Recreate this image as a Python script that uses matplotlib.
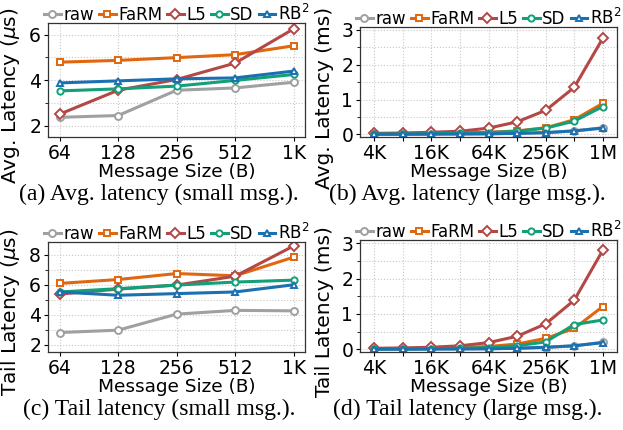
import matplotlib
matplotlib.use("Agg")
import matplotlib.pyplot as plt
from matplotlib.ticker import MultipleLocator

# x categories
small_sizes = ["64", "128", "256", "512", "1K"]
large_sizes = ["4K", "8K", "16K", "32K", "64K", "128K", "256K", "512K", "1M"]

systems = ["raw", "FaRM", "L5", "SD", "RB$^2$"]
colors = ["#a0a0a0", "#e0670f", "#b34846", "#11a078", "#1b70b2"]
markers = ["o", "s", "D", "o", "^"]

# (a) avg latency, small msgs (us)
avg_small_raw = [2.37, 2.45, 3.56, 3.66, 3.91]
avg_small_farm = [4.79, 4.87, 4.99, 5.12, 5.51]
avg_small_l5 = [2.51, 3.56, 4.03, 4.75, 6.25]
avg_small_sd = [3.53, 3.62, 3.74, 3.99, 4.25]
avg_small_rb2 = [3.88, 3.97, 4.06, 4.10, 4.40]

# (b) avg latency, large msgs (ms)
avg_large_raw = [0.005, 0.007, 0.01, 0.015, 0.02, 0.03, 0.05, 0.1, 0.19]
avg_large_farm = [0.02, 0.02, 0.03, 0.04, 0.06, 0.1, 0.19, 0.42, 0.89]
avg_large_l5 = [0.03, 0.04, 0.06, 0.09, 0.18, 0.36, 0.69, 1.35, 2.76]
avg_large_sd = [0.01, 0.01, 0.02, 0.03, 0.05, 0.09, 0.18, 0.38, 0.80]
avg_large_rb2 = [0.005, 0.006, 0.008, 0.01, 0.015, 0.03, 0.05, 0.1, 0.18]

# (c) tail latency, small msgs (us)
tail_small_raw = [2.81, 2.97, 4.04, 4.29, 4.26]
tail_small_farm = [6.09, 6.35, 6.75, 6.60, 7.84]
tail_small_l5 = [5.38, 5.71, 5.98, 6.57, 8.59]
tail_small_sd = [5.52, 5.74, 5.98, 6.18, 6.31]
tail_small_rb2 = [5.52, 5.30, 5.41, 5.52, 6.00]

# (d) tail latency, large msgs (ms)
tail_large_raw = [0.005, 0.007, 0.01, 0.015, 0.02, 0.03, 0.05, 0.1, 0.2]
tail_large_farm = [0.02, 0.02, 0.03, 0.05, 0.08, 0.15, 0.31, 0.59, 1.21]
tail_large_l5 = [0.03, 0.04, 0.06, 0.1, 0.19, 0.37, 0.72, 1.39, 2.8]
tail_large_sd = [0.01, 0.01, 0.02, 0.03, 0.05, 0.1, 0.21, 0.7, 0.83]
tail_large_rb2 = [0.005, 0.006, 0.008, 0.01, 0.015, 0.03, 0.06, 0.1, 0.19]

panels = [
    dict(pos=[0.077, 0.681, 0.413, 0.265], xlabels=small_sizes,
         series=[avg_small_raw, avg_small_farm, avg_small_l5, avg_small_sd, avg_small_rb2],
         ylabel="Avg. Latency ($\\mu$s)", ylim=(1.5, 6.5), major=2, minor=1,
         caption="(a) Avg. latency (small msg.).", cap=(0.255, 0.547)),
    dict(pos=[0.578, 0.681, 0.4125, 0.256], xlabels=large_sizes,
         series=[avg_large_raw, avg_large_farm, avg_large_l5, avg_large_sd, avg_large_rb2],
         ylabel="Avg. Latency (ms)", ylim=(-0.08, 3.08), major=1, minor=0.5,
         caption="(b) Avg. latency (large msg.).", cap=(0.75, 0.547)),
    dict(pos=[0.077, 0.181, 0.413, 0.256], xlabels=small_sizes,
         series=[tail_small_raw, tail_small_farm, tail_small_l5, tail_small_sd, tail_small_rb2],
         ylabel="Tail Latency ($\\mu$s)", ylim=(1.5, 8.85), major=2, minor=1,
         caption="(c) Tail latency (small msg.).", cap=(0.255, 0.047)),
    dict(pos=[0.578, 0.181, 0.4125, 0.26], xlabels=large_sizes,
         series=[tail_large_raw, tail_large_farm, tail_large_l5, tail_large_sd, tail_large_rb2],
         ylabel="Tail Latency (ms)", ylim=(-0.08, 3.08), major=1, minor=0.5,
         caption="(d) Tail latency (large msg.).", cap=(0.75, 0.047)),
]

fig = plt.figure(figsize=(6.23, 4.3), dpi=100)

for p in panels:
    ax = fig.add_axes(p["pos"])
    x = list(range(len(p["xlabels"])))
    for name, vals, c, m in zip(systems, p["series"], colors, markers):
        ms = 5 if m != "o" or name == "raw" else 4.5
        ax.plot(x, vals, color=c, marker=m, markersize=ms, markerfacecolor="white",
                markeredgewidth=1.4, linewidth=2.2, label=name)
    ax.set_xticks(x)
    if len(x) > 5:
        ax.set_xticklabels([l if i % 2 == 0 else "" for i, l in enumerate(p["xlabels"])])
        ax.set_xlim(-0.5, len(x) - 0.5)
    else:
        ax.set_xticklabels(p["xlabels"])
        ax.set_xlim(-0.2, len(x) - 0.8)
    ax.set_ylim(*p["ylim"])
    ax.yaxis.set_major_locator(MultipleLocator(p["major"]))
    ax.yaxis.set_minor_locator(MultipleLocator(p["minor"]))
    ax.grid(True, which="both", axis="y", linestyle=":", color="#c8c8c8", linewidth=0.8)
    ax.grid(True, which="major", axis="x", linestyle=":", color="#c8c8c8", linewidth=0.8)
    ax.set_axisbelow(True)
    ax.tick_params(labelsize=13.5, length=3, pad=2)
    ax.tick_params(which="minor", length=2)
    ax.set_xlabel("Message Size (B)", fontsize=13.3, labelpad=0)
    ax.set_ylabel(p["ylabel"], fontsize=14.5)
    # label sits lower than the axes centre, like the original
    ax.yaxis.set_label_coords(-0.102, 0.36)
    for s in ax.spines.values():
        s.set_linewidth(0.9)
        s.set_color("#333333")
    ax.legend(loc="lower center", bbox_to_anchor=(0.5, 0.98), ncol=5, frameon=False,
              fontsize=12, handlelength=1.0, handletextpad=0.15, columnspacing=0.3,
              borderaxespad=0.0, borderpad=0.1)
    fig.text(p["cap"][0], p["cap"][1], p["caption"], ha="center", va="center",
             fontsize=17, family="Liberation Serif")

fig.savefig("out.png", dpi=100)
